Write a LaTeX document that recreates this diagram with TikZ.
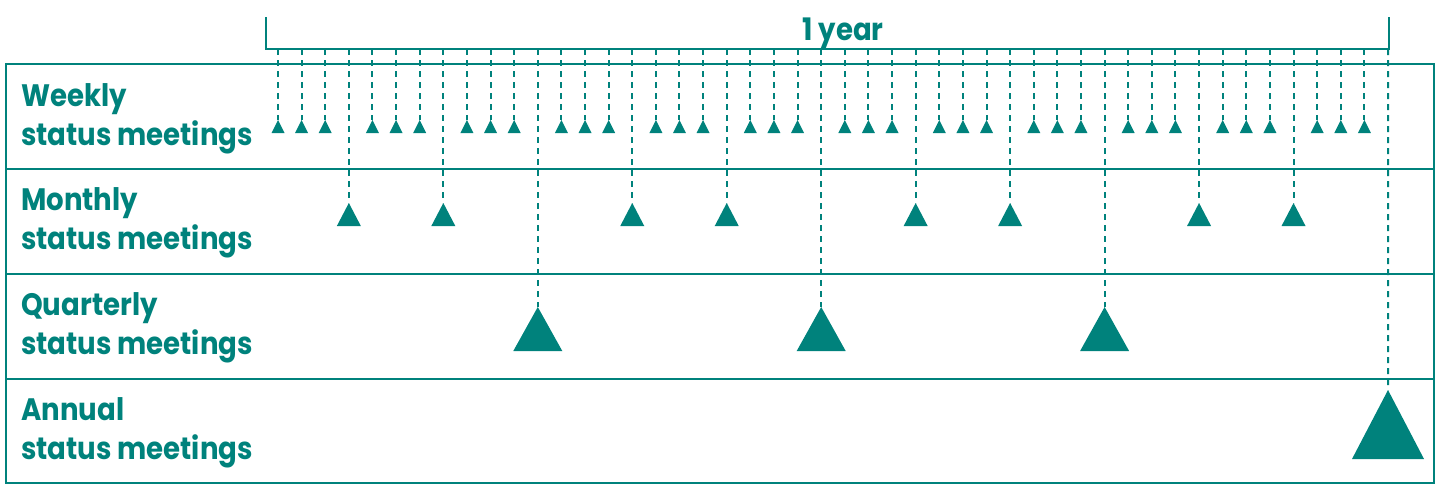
\documentclass[tikz,border=0pt]{standalone}
\usepackage{fontspec}
\setmainfont{Poppins}[FakeStretch=0.89]
\definecolor{tealc}{RGB}{0,130,124}
\tikzset{
  frame/.style={draw=tealc, line width=2pt},
  dashline/.style={draw=tealc, line width=2pt, dash pattern=on 6pt off 5pt},
  lab/.style={anchor=base west, inner sep=0pt, text=tealc, font=\fontsize{31}{36}\selectfont\bfseries},
}
\newcommand{\mytri}[5]{% name, x, apex y, base y, half width
  \coordinate (#1) at (#2,#3);
  \fill[tealc] (#2,#3) -- (#2+#5,#4) -- (#2-#5,#4) -- cycle;
}
\begin{document}
\begin{tikzpicture}[x=1pt,y=-1pt]
\useasboundingbox (0,0) rectangle (1437,485);
% frame and rows
\draw[frame] (6,64) rectangle (1434,483);
\coordinate (r1l) at (6,169); \coordinate (r1r) at (1434,169);
\coordinate (r2l) at (6,274); \coordinate (r2r) at (1434,274);
\coordinate (r3l) at (6,379); \coordinate (r3r) at (1434,379);
\draw[frame] (r1l) -- (r1r);
\draw[frame] (r2l) -- (r2r);
\draw[frame] (r3l) -- (r3r);
% bracket
\coordinate (bl) at (266,17); \coordinate (br) at (1389,17);
\draw[frame, line join=miter] (bl) -- (266,49) -- (1389,49) -- (br);
\node[text=tealc, inner sep=0pt, anchor=base, font=\fontsize{31}{36}\selectfont\bfseries] (year) at (843,40) {1 year};
% labels
\node[lab] (w1) at (21,106) {Weekly};
\node[lab] (w2) at (21,145) {status meetings};
\node[lab] (m1) at (21,210) {Monthly};
\node[lab] (m2) at (21,249) {status meetings};
\node[lab] (q1) at (21,315) {Quarterly};
\node[lab] (q2) at (21,354) {status meetings};
\node[lab] (a1) at (21,420) {Annual};
\node[lab] (a2) at (21,459) {status meetings};
% ticks
\foreach \i in {1,...,48}{
  \pgfmathsetmacro{\xx}{278+(\i-1)*23.617}
  \coordinate (t\i) at (\xx,49);
}
% weekly
\foreach \m in {0,...,11}{
  \foreach \w in {1,2,3}{
    \pgfmathtruncatemacro{\i}{4*\m+\w}
    \pgfmathsetmacro{\xx}{278+(\i-1)*23.617}
    \mytri{wk\i}{\xx}{120}{133}{6.5}
    \draw[dashline] (t\i) -- (wk\i);
  }
}
% monthly
\foreach \i in {4,8,16,20,28,32,40,44}{
  \pgfmathsetmacro{\xx}{278+(\i-1)*23.617}
  \mytri{mo\i}{\xx}{203}{226}{12}
  \draw[dashline] (t\i) -- (mo\i);
}
% quarterly
\foreach \i in {12,24,36}{
  \pgfmathsetmacro{\xx}{278+(\i-1)*23.617}
  \mytri{qu\i}{\xx}{307}{351}{24.5}
  \draw[dashline] (t\i) -- (qu\i);
}
% annual
\mytri{an48}{1388}{390}{459}{36}
\draw[dashline] (t48) -- (an48);
\end{tikzpicture}
\end{document}
